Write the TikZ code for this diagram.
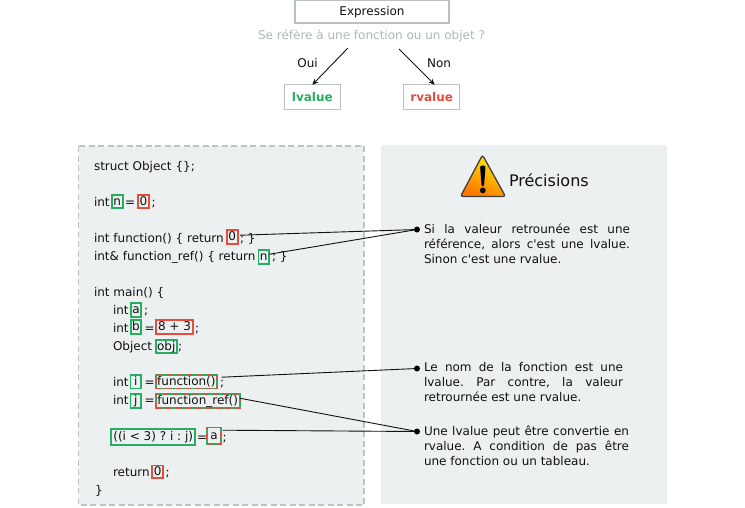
\documentclass[tikz,border=0pt]{standalone}
\usepackage{fontspec}
\newfontfamily\dvs{DejaVu Sans}
\newfontfamily\dvb{DejaVu Sans Bold}
\definecolor{vert}{HTML}{27AE60}
\definecolor{rouge}{HTML}{E74C3C}
\definecolor{panneau}{HTML}{ECF0F1}
\definecolor{gris}{HTML}{BDC3C7}
\definecolor{grisq}{HTML}{AAB7B8}
\definecolor{encre}{HTML}{111111}
\newcommand{\ligne}[2]{\makebox[#1pt][s]{#2}}
\tikzset{
  base/.style={inner sep=0pt,outer sep=0pt,font=\dvs\fontsize{12}{15}\selectfont\frenchspacing,text=encre},
  code/.style={base,anchor=base west,yshift=-0.7pt},
  boite/.style={base,draw=#1,line width=1.9pt,text height=9.5pt,text depth=2pt,align=center},
  gbox/.style={boite=vert},
  rbox/.style={boite=rouge},
  gdash/.style={boite=vert,postaction={draw=rouge,line width=1.9pt,dash pattern=on 5pt off 5pt}},
  topbox/.style={base,draw=gris!80!grisq,line width=1.2pt,fill=white,text height=9.5pt,text depth=2pt},
  note/.style={base,anchor=north west,align=left},
  lien/.style={encre,line width=.9pt},
  fleche/.style={encre,line width=.9pt,-{Stealth[length=6pt,width=5pt]}},
  point/.style={circle,fill=black,inner sep=0pt,minimum size=6pt},
}
\usetikzlibrary{arrows.meta}
\begin{document}
\begin{tikzpicture}[x=1pt,y=-1pt]
\useasboundingbox (0,0) rectangle (745,507);
% panels
\fill[panneau] (78.5,146) rectangle (364,505);
\draw[gris,line width=1.6pt,dash pattern=on 6pt off 3.5pt] (78.5,146) rectangle (364,505);
\fill[panneau] (381,145) rectangle (667,504);
% top
\node[topbox,minimum width=154pt,minimum height=23pt] (expr) at (372,11.5) {Expression};
\node[base,text=grisq] (quest) at (371.5,36) {Se réfère à une fonction ou un objet ?};
\coordinate (qg) at (347.7,48.3);
\coordinate (qd) at (399,49);
\node[topbox,minimum width=56pt,minimum height=25pt,text=vert,font=\dvb\fontsize{12}{15}\selectfont] (lv) at (312.3,97.3) {lvalue};
\node[topbox,minimum width=56pt,minimum height=25pt,text=rouge,font=\dvb\fontsize{12}{15}\selectfont] (rv) at (431.7,97.3) {rvalue};
\draw[fleche] (qg) -- (lv.north);
\draw[fleche] (qd) -- ([xshift=3pt]rv.north);
\node[base] (oui) at (307.5,62.7) {Oui};
\node[base] (non) at (439,63.2) {Non};
% code
\node[code] (c1) at (94,169.5) {struct Object \{\};};
\node[code] (c2) at (94,205.5) {int};
\node[gbox,minimum width=10.5pt,minimum height=13pt] (n1) at (117.3,201.7) {n};
\node[code] (c2b) at (125,205.5) {=};
\node[rbox,minimum width=11pt,minimum height=13pt] (z1) at (143.5,201.7) {0};
\node[code] (c2c) at (151.5,205.5) {;};
\node[code] (c3) at (94,241.5) {int function() \{ return};
\node[rbox,minimum width=11pt,minimum height=14pt] (z2) at (232.2,237.2) {0};
\node[code] (c3b) at (240,241.5) {; \}};
\node[code] (c4) at (94,259.5) {int\& function\_ref() \{ return};
\node[gbox,minimum width=10.5pt,minimum height=14pt] (n2) at (263.7,256.8) {n};
\node[code] (c4b) at (272,259.5) {; \}};
\node[code] (c5) at (94,295.5) {int main() \{};
\node[code] (c6) at (113,313.5) {int};
\node[gbox,minimum width=10.5pt,minimum height=13.5pt] (a1) at (136,310) {a};
\node[code] (c6b) at (144,313.5) {;};
\node[code] (c7) at (113,331.5) {int};
\node[gbox,minimum width=10.5pt,minimum height=13.5pt] (b1) at (136,327) {b};
\node[code] (c7b) at (144.5,331.5) {=};
\node[rbox,minimum width=37.5pt,minimum height=13.5pt] (e1) at (174.5,327) {8 + 3};
\node[code] (c7c) at (195,331.5) {;};
\node[code] (c8) at (113,349.5) {Object};
\node[gbox,minimum width=21pt,minimum height=13pt] (o1) at (166.2,346.3) {obj};
\node[code] (c8b) at (178,349.5) {;};
\node[code] (c9) at (113,385.5) {int};
\node[gbox,minimum width=10.5pt,minimum height=13.5pt] (i1) at (135.7,381.7) {i};
\node[code] (c9b) at (144.5,385.5) {=};
\node[gdash,minimum width=61.5pt,minimum height=13.5pt] (f1) at (186.4,381.7) {function()};
\node[code] (c9c) at (220,385.5) {;};
\node[code] (c10) at (113,403.5) {int};
\node[gbox,minimum width=10.5pt,minimum height=14pt] (j1) at (135.7,401.2) {j};
\node[code] (c10b) at (144.5,403.5) {=};
\node[gdash,minimum width=84pt,minimum height=14pt] (f2) at (197.7,401.2) {function\_ref()};
\node[gbox,minimum width=84.3pt,minimum height=16pt] (t1) at (153.2,436.8) {((i < 3) ? i : j)};
\node[code] (c11b) at (197,440.5) {=};
\node[gdash,minimum width=13.4pt,minimum height=16.5pt] (a2) at (214,435.7) {a};
\node[code] (c11c) at (222.5,440.5) {;};
\node[code] (c12) at (113,475.5) {return};
\node[rbox,minimum width=11pt,minimum height=12.5pt] (z3) at (157.8,471.7) {0};
\node[code] (c12b) at (165.5,475.5) {;};
\node[code] (c13) at (95,493.5) {\}};
% warning
\shade[left color=yellow!85!orange,right color=orange!90!red,shading angle=-25,draw=black!75,line width=1.3pt,rounded corners=2.5pt] (482.5,155) -- (505.5,196.5) -- (460.5,196.5) -- cycle;
\fill[black,rounded corners=1.5pt] (480,165.5) -- (485.6,165.5) -- (484,186.5) -- (481.6,186.5) -- cycle;
\fill[black] (482.8,190.4) circle (2.9pt);
\node[code,font=\dvs\fontsize{16}{19}\selectfont] (prec) at (509,186) {Précisions};
% notes
\node[note] (s1) at (424,224) {\ligne{206}{Si la valeur retrounée est une}\\\ligne{206}{référence, alors c'est une lvalue.}\\Sinon c'est une rvalue.};
\node[note] (s2) at (424,362) {\ligne{199}{Le nom de la fonction est une}\\\ligne{199}{lvalue. Par contre, la valeur}\\retrournée est une rvalue.};
\node[note] (s3) at (424,426) {\ligne{205}{Une lvalue peut être convertie en}\\\ligne{205}{rvalue. A condition de pas être}\\une fonction ou un tableau.};
\node[point] (d1) at (417,229.5) {};
\node[point] (d2) at (417,368.5) {};
\node[point] (d3) at (417,431.5) {};
\draw[lien] ([shift={(2.5pt,2pt)}]z2.east) -- (d1);
\draw[lien] ([shift={(0pt,2.5pt)}]n2.east) -- (d1);
\draw[lien] ([shift={(4.5pt,4.5pt)}]f1.east) -- (d2);
\draw[lien] ([shift={(0pt,3pt)}]f2.east) -- (d3);
\draw[lien] ([shift={(2pt,5.5pt)}]a2.east) -- (d3);
\end{tikzpicture}
\end{document}
